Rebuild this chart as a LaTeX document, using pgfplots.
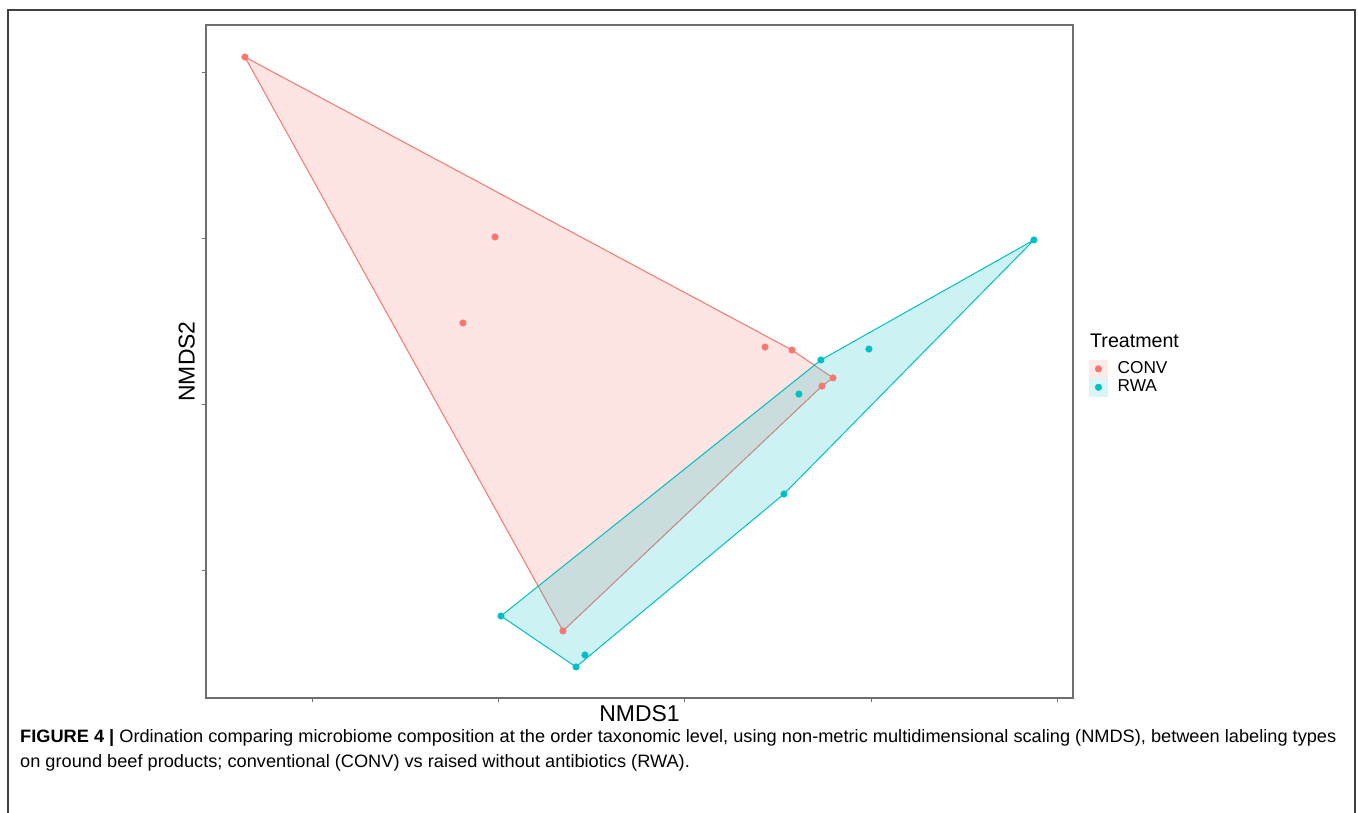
\documentclass[border=0pt]{standalone}
\usepackage{pgfplots}
\pgfplotsset{compat=1.18}
\usepackage{fontspec}
\setmainfont{Liberation Sans}
\definecolor{conv}{HTML}{F8766D}
\definecolor{rwa}{HTML}{00BFC4}
\definecolor{axgray}{HTML}{6E6E6E}

\pgfplotstableread{
x y
-2.363 2.096
-1.020 1.012
-1.192 0.494
0.430 0.349
0.575 0.331
0.795 0.163
0.736 0.114
-0.655 -1.361
}\convpts
\pgfplotstableread{
x y
-2.363 2.096
0.575 0.331
0.795 0.163
0.736 0.114
-0.655 -1.361
}\convhull
\pgfplotstableread{
x y
1.874 0.994
0.988 0.337
0.730 0.271
0.612 0.066
0.532 -0.536
-0.988 -1.271
-0.537 -1.506
-0.585 -1.578
}\rwapts
\pgfplotstableread{
x y
1.874 0.994
0.532 -0.536
-0.585 -1.578
-0.988 -1.271
0.730 0.271
}\rwahull

\begin{document}
\begin{tikzpicture}[x=1bp,y=1bp]
\path[use as bounding box] (0,0) rectangle (1358,812);
\draw[black!75, line width=1.2bp] (8,-2) -- (8,802) -- (1355,802) -- (1355,-2);
\begin{axis}[
 at={(206bp,114bp)}, anchor=south west, width=867bp, height=673bp, scale only axis,
 xmin=-2.572, xmax=2.084, ymin=-1.765, ymax=2.289,
 xtick={-2,-1,0,1,2}, ytick={-1,0,1,2}, xticklabels={}, yticklabels={},
 xtick pos=lower, ytick pos=left, tick align=outside, major tick length=4bp,
 tick style={axgray, line width=1bp},
 axis line style={axgray, line width=1.3bp},
 xlabel={NMDS1}, ylabel={NMDS2},
 label style={font=\fontsize{23}{26}\selectfont, inner sep=0pt},
 xlabel style={at={(axis description cs:0.5,-0.0104)}, anchor=north},
 ylabel style={at={(axis description cs:-0.0127,0.5)}, anchor=south},
 legend style={at={(axis description cs:1.0185,0.503)}, anchor=north west,
   draw=none, fill=none, inner sep=0pt, row sep=0pt, column sep=10bp,
   font=\fontsize{17.3}{19}\selectfont,
   nodes={inner sep=0pt, text height=13bp, text depth=4bp}},
 legend cell align=left,
]
\addlegendimage{legend image code/.code={\fill[conv!15] (0,-9bp) rectangle (18bp,9bp); \fill[conv] (9bp,0) circle (3.3bp);}}
\addlegendentry{CONV}
\addlegendimage{legend image code/.code={\fill[rwa!15] (0,-9bp) rectangle (18bp,9bp); \fill[rwa] (9bp,0) circle (3.3bp);}}
\addlegendentry{RWA}
\addplot[draw=conv, line width=1bp, fill=conv, fill opacity=0.2, forget plot] table {\convhull} -- cycle;
\addplot[only marks, mark=*, mark size=3.3bp, conv, forget plot] table {\convpts};
\addplot[draw=rwa, line width=1bp, fill=rwa, fill opacity=0.2, forget plot] table {\rwahull} -- cycle;
\addplot[only marks, mark=*, mark size=3.3bp, rwa, forget plot] table {\rwapts};
\end{axis}
\node[anchor=base west, inner sep=0pt, font=\fontsize{19.7}{22}\selectfont] at (1090,464) {Treatment};
\node[anchor=base west, inner sep=0pt] at (20,70) {\fontsize{18}{20}\selectfont\scalebox{1.015}[1]{\textbf{FIGURE 4 |} Ordination comparing microbiome composition at the order taxonomic level, using non-metric multidimensional scaling (NMDS), between labeling types}};
\node[anchor=base west, inner sep=0pt] at (20,45) {\fontsize{18}{20}\selectfont\scalebox{1.015}[1]{on ground beef products; conventional (CONV) vs raised without antibiotics (RWA).}};
\end{tikzpicture}
\end{document}
